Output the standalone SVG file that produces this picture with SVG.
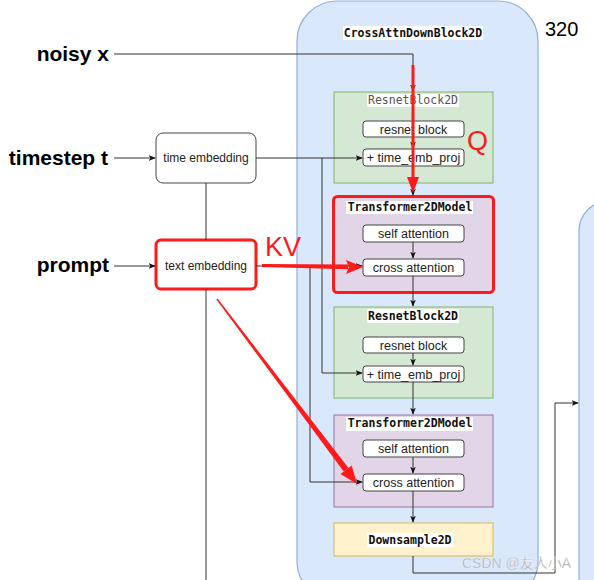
<svg xmlns="http://www.w3.org/2000/svg" width="594" height="580" viewBox="0 0 594 580">
<defs>
<marker id="ah" viewBox="0 0 10 10" refX="9" refY="5" markerWidth="7" markerHeight="7" markerUnits="userSpaceOnUse" orient="auto">
<path d="M0,1 L10,5 L0,9 L2.5,5 Z" fill="#111"/>
</marker>
<style>
.lbl{font-family:"Liberation Sans",Arial,sans-serif;font-weight:bold;font-size:21px;fill:#000;text-anchor:end}
.box{fill:#fff;stroke:#444;stroke-width:1}
.t{font-family:"Liberation Sans",Arial,sans-serif;font-size:12.5px;fill:#222;text-anchor:middle}
.te{font-family:"Liberation Sans",Arial,sans-serif;font-size:12px;fill:#222;text-anchor:middle}
.mono{font-family:"DejaVu Sans Mono","Liberation Mono",monospace;font-size:11.5px;font-weight:bold;fill:#111;text-anchor:middle}
.conn{fill:none;stroke:#333;stroke-width:1}
.red{fill:#ff1a1a}
.res{fill:#d5e8d4;stroke:#82b366;stroke-width:1}
.tr{fill:#e1d5e7;stroke:#9673a6;stroke-width:1}
</style>
</defs>
<rect width="594" height="580" fill="#fff"/>

<g id="container">
<rect x="297" y="1" width="241" height="600" rx="40" fill="#dae8fc" stroke="#8fb0dd" stroke-width="1.2"/>
<rect x="343" y="26" width="140" height="14" fill="#fff"/>
<text x="413" y="37" class="mono">CrossAttnDownBlock2D</text>
</g>
<g id="next-block">
<rect x="579" y="201" width="100" height="420" rx="30" fill="#dae8fc" stroke="#8fb0dd" stroke-width="1.2"/>
</g>
<g id="label-320"><text x="545" y="36" font-family="Liberation Sans, Arial, sans-serif" font-size="20" fill="#000">320</text></g>

<g id="inputs">
<text x="109" y="61" class="lbl">noisy x</text>
<text x="108" y="165" class="lbl">timestep t</text>
<text x="109" y="272" class="lbl">prompt</text>
</g>

<g id="time-embedding">
<rect x="156" y="133" width="100" height="50" rx="7" class="box"/>
<text x="206" y="162" class="te">time embedding</text>
</g>
<g id="text-embedding">
<rect x="156" y="240" width="100" height="49" rx="5" fill="#fff" stroke="#ff1a1a" stroke-width="3"/>
<text x="206" y="270" class="te">text embedding</text>
</g>

<g id="resnet1">
<rect x="334" y="92" width="159" height="91" class="res"/>
<rect x="367" y="94" width="92" height="13" fill="#fff"/>
<text x="413" y="104" class="mono" style="font-weight:normal;fill:#555">ResnetBlock2D</text>
<rect x="363" y="121" width="101" height="16" rx="3" class="box"/>
<text x="413.5" y="133.5" class="t">resnet block</text>
<rect x="363" y="149" width="101" height="17" rx="3" class="box"/>
<text x="413.5" y="162" class="t">+ time_emb_proj</text>
</g>

<g id="transformer1">
<rect x="333.5" y="196.5" width="160" height="96" rx="4" fill="#e1d5e7" stroke="#ff1a1a" stroke-width="3"/>
<rect x="346" y="201" width="127" height="13" fill="#fff"/>
<text x="410" y="211" class="mono">Transformer2DModel</text>
<rect x="363" y="225" width="101" height="17" rx="3" class="box"/>
<text x="413.5" y="238" class="t">self attention</text>
<rect x="363" y="259" width="101" height="17" rx="3" class="box"/>
<text x="413.5" y="272" class="t">cross attention</text>
</g>

<g id="resnet2">
<rect x="334" y="307" width="159" height="91" class="res"/>
<rect x="367" y="309" width="92" height="14" fill="#fff"/>
<text x="413" y="320" class="mono">ResnetBlock2D</text>
<rect x="363" y="337" width="101" height="16" rx="3" class="box"/>
<text x="413.5" y="349.5" class="t">resnet block</text>
<rect x="363" y="366" width="101" height="16" rx="3" class="box"/>
<text x="413.5" y="378.5" class="t">+ time_emb_proj</text>
</g>

<g id="transformer2">
<rect x="334" y="415" width="159" height="92" class="tr"/>
<rect x="346" y="417" width="127" height="14" fill="#fff"/>
<text x="410" y="427" class="mono">Transformer2DModel</text>
<rect x="363" y="440" width="101" height="17" rx="3" class="box"/>
<text x="413.5" y="453" class="t">self attention</text>
<rect x="363" y="474" width="101" height="17" rx="3" class="box"/>
<text x="413.5" y="487" class="t">cross attention</text>
</g>

<g id="downsample">
<rect x="334" y="523" width="159" height="33" fill="#fff2cc" stroke="#d6b656" stroke-width="1"/>
<rect x="367" y="533" width="86" height="14" fill="#fff"/>
<text x="410" y="544" class="mono">Downsample2D</text>
</g>

<g id="connectors">
<path class="conn" d="M114,54 H413 V91" marker-end="url(#ah)"/>
<path class="conn" d="M114,158 H155" marker-end="url(#ah)"/>
<path class="conn" d="M114,266 H155" marker-end="url(#ah)"/>
<path class="conn" d="M256,158 H362" marker-end="url(#ah)"/>
<path class="conn" d="M322,158 V373 H362" marker-end="url(#ah)"/>
<path class="conn" d="M206,183 V240"/>
<path class="conn" d="M206,289 V580"/>
<path class="conn" d="M256,266 H362" marker-end="url(#ah)"/>
<path class="conn" d="M310,266 V482 H362" marker-end="url(#ah)"/>
<path class="conn" d="M413,137 V148" marker-end="url(#ah)"/>
<path class="conn" d="M413,166 V195" marker-end="url(#ah)"/>
<path class="conn" d="M413,242 V258" marker-end="url(#ah)"/>
<path class="conn" d="M413,276 V306" marker-end="url(#ah)"/>
<path class="conn" d="M413,353 V365" marker-end="url(#ah)"/>
<path class="conn" d="M413,382 V414" marker-end="url(#ah)"/>
<path class="conn" d="M413,457 V473" marker-end="url(#ah)"/>
<path class="conn" d="M413,491 V522" marker-end="url(#ah)"/>
<path class="conn" d="M413,556 V573 H555 V403 H578" marker-end="url(#ah)"/>
</g>

<g id="annotations">
<path d="M413,65 V180" stroke="#ff1a1a" stroke-width="3" fill="none"/>
<polygon class="red" points="407,177 419,177 413,193"/>
<text x="467" y="150" font-family="Liberation Sans, Arial, sans-serif" font-size="27" fill="#ff1a1a">Q</text>
<polygon class="red" points="262,264 348,264.6 348,269.2 262,267"/>
<polygon class="red" points="346,260 363,267 346,274 349,267"/>
<text x="265" y="256" font-family="Liberation Sans, Arial, sans-serif" font-size="27" fill="#ff1a1a">KV</text>
<polygon class="red" points="216.4,299.4 217.6,298.6 348.5,467.9 343.7,471.5"/>
<polygon class="red" points="340.5,474 351.7,465.5 357,484"/>
</g>

<g id="watermark">
<text x="462" y="568" font-family="Liberation Sans, 'Noto Sans CJK SC', sans-serif" font-size="14" fill="#999" stroke="#fff" stroke-width="0.3" opacity="0.85">CSDN @友人小A</text>
</g>
</svg>
